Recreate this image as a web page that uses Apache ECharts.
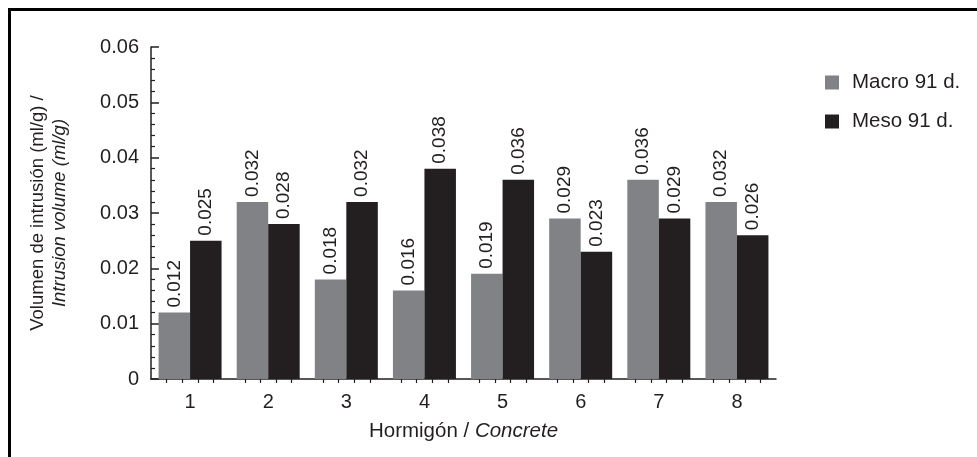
<!DOCTYPE html>
<html>
<head>
<meta charset="utf-8">
<script src="https://cdn.jsdelivr.net/npm/echarts@6/dist/echarts.min.js"></script>
<style>
  html, body { margin: 0; padding: 0; background: #fff; }
  #chart { width: 977px; height: 457px; }
</style>
</head>
<body>
<div id="chart"></div>
<script>
// datos
const categories = ['1', '2', '3', '4', '5', '6', '7', '8']
const macro91 = [0.012, 0.032, 0.018, 0.016, 0.019, 0.029, 0.036, 0.032]
const meso91 = [0.025, 0.028, 0.032, 0.038, 0.036, 0.023, 0.029, 0.026]
const seriesNames = ['Macro 91 d.', 'Meso 91 d.']

const ink = '#231f20'
const font = 'Liberation Sans, Arial, sans-serif'

const barLabel = {
    show: true,
    position: 'top',
    rotate: 90,
    align: 'left',
    verticalAlign: 'middle',
    distance: 5,
    fontFamily: font,
    fontSize: 19,
    color: ink,
    formatter: p => p.value.toFixed(3)
}

const chart = echarts.init(document.getElementById('chart'))
chart.setOption({
    animation: false,
    backgroundColor: '#fff',
    graphic: [{
        type: 'rect',
        shape: { x: 9.5, y: 9.5, width: 1200, height: 1200 },
        style: { fill: 'none', stroke: '#000', lineWidth: 3 }
    }],
    legend: {
        orient: 'vertical',
        left: 820,
        top: 67,
        itemWidth: 14,
        itemHeight: 14,
        itemGap: 18,
        icon: 'rect',
        textStyle: { fontFamily: font, fontSize: 20.5, color: ink, lineHeight: 20, padding: [0, 0, 0, 8] },
        data: seriesNames
    },
    grid: { left: 151, right: 201, top: 47, bottom: 78 },
    xAxis: [{
        type: 'category',
        data: categories,
        name: '{a|Hormigón / }{b|Concrete}',
        nameLocation: 'middle',
        nameGap: 42,
        nameTextStyle: {
            verticalAlign: 'top',
            rich: {
                a: { fontFamily: font, fontSize: 20.5, color: ink },
                b: { fontFamily: font, fontSize: 20.5, color: ink, fontStyle: 'italic' }
            }
        },
        axisLine: { lineStyle: { color: ink, width: 1.5 } },
        axisTick: { inside: true, length: 8, lineStyle: { color: ink, width: 1.5 } },
        axisLabel: { fontFamily: font, fontSize: 20, color: ink, margin: 13 },
        splitLine: { show: false }
    }, {
        type: 'value',
        position: 'bottom',
        min: 0,
        max: 8,
        interval: 1,
        axisLine: { show: false },
        axisTick: { show: false },
        axisLabel: { show: false },
        splitLine: { show: false },
        minorTick: { show: true, splitNumber: 5, length: 4, lineStyle: { color: ink, width: 1.2 } },
        minorSplitLine: { show: false }
    }],
    yAxis: {
        type: 'value',
        min: 0,
        max: 0.06,
        interval: 0.01,
        name: '{a|Volumen de intrusión (ml/g) /}\n{b|Intrusion volume (ml/g)}',
        nameLocation: 'middle',
        nameRotate: 90,
        nameGap: 80,
        nameTextStyle: {
            rich: {
                a: { fontFamily: font, fontSize: 18.5, color: ink, lineHeight: 22, align: 'center' },
                b: { fontFamily: font, fontSize: 18.5, color: ink, lineHeight: 22, fontStyle: 'italic', align: 'center' }
            }
        },
        axisLine: { show: true, lineStyle: { color: ink, width: 1.5 } },
        axisTick: { show: true, inside: true, length: 8, lineStyle: { color: ink, width: 1.5 } },
        minorTick: { show: true, splitNumber: 5, length: 4, lineStyle: { color: ink, width: 1.2 } },
        axisLabel: {
            fontFamily: font, fontSize: 20, color: ink, margin: 12,
            formatter: v => (v === 0 ? '0' : v.toFixed(2))
        },
        splitLine: { show: false }
    },
    series: [{
        name: seriesNames[0],
        type: 'bar',
        data: macro91,
        barWidth: 31.5,
        barGap: '0%',
        itemStyle: { color: '#808285' },
        label: barLabel,
        z: 1
    }, {
        name: seriesNames[1],
        type: 'bar',
        data: meso91,
        barWidth: 31.5,
        barGap: '0%',
        itemStyle: { color: ink },
        label: barLabel,
        z: 1
    }]
})
</script>
</body>
</html>
